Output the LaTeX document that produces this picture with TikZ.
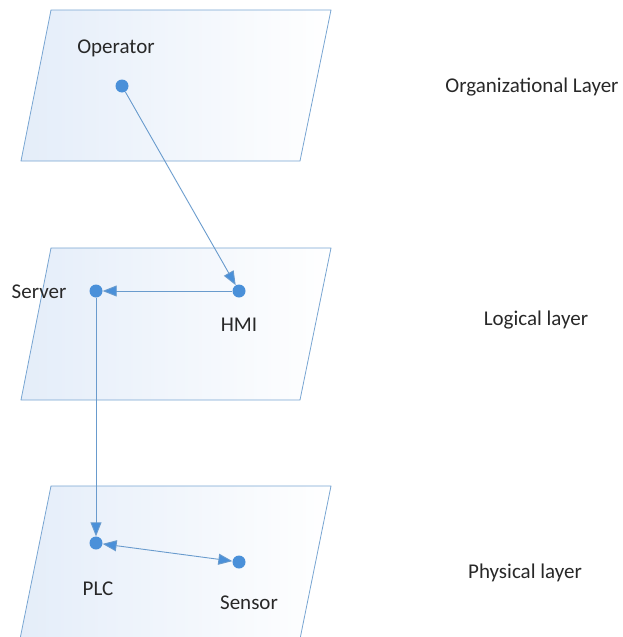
\documentclass[tikz,border=0pt]{standalone}
\usepackage{fontspec}
\setmainfont{Carlito}
\usetikzlibrary{arrows.meta}
\definecolor{dotblue}{RGB}{74,144,217}
\definecolor{lineblue}{RGB}{105,155,205}
\definecolor{planeedge}{RGB}{120,165,210}
\definecolor{planefill}{RGB}{228,237,249}
\definecolor{txt}{RGB}{40,40,40}
\tikzset{
  plane/.style={draw=planeedge, line width=0.8pt, left color=planefill, right color=white},
  dotnode/.style={circle, fill=dotblue, draw=none, minimum size=13pt, inner sep=0pt},
  lbl/.style={font=\fontsize{21}{23}\selectfont, text=txt, inner sep=0pt},
  conn/.style={draw=lineblue, line width=0.9pt, -{Triangle[length=14pt,width=11pt,fill=dotblue]}},
}
\begin{document}
\begin{tikzpicture}[x=1pt,y=-1pt]
\useasboundingbox (0,0) rectangle (622,637);
% planes
\path[plane] (51,10) -- (331,10) -- (300,161) -- (21,161) -- cycle;
\path[plane] (51,248) -- (331,248) -- (300,400) -- (21,400) -- cycle;
\path[left color=planefill, right color=white] (51,486) -- (331,486) -- (300,640) -- (20,640) -- cycle;
\draw[planeedge, line width=0.8pt] (20.4,637) -- (51,486) -- (331,486) -- (300.4,637);
% dots
\node[dotnode] (op) at (122,86) {};
\node[dotnode] (hmi) at (239,291) {};
\node[dotnode] (srv) at (96,291) {};
\node[dotnode] (plc) at (96,543) {};
\node[dotnode] (sen) at (239,562) {};
% labels
\node[lbl] (tOp) at (116,48) {Operator};
\node[lbl] (tSrv) at (39,292) {Server};
\node[lbl] (tHmi) at (239,325) {HMI};
\node[lbl] (tPlc) at (98,589) {PLC};
\node[lbl] (tSen) at (249,603) {Sensor};
\node[lbl] (tOrg) at (532,87) {Organizational Layer};
\node[lbl] (tLog) at (536,320) {Logical layer};
\node[lbl] (tPhy) at (525,573) {Physical layer};
% connectors
\draw[conn] (op) -- (hmi);
\draw[conn] (hmi) -- (srv);
\draw[conn] (srv) -- (plc);
\draw[conn, {Triangle[length=14pt,width=11pt,fill=dotblue]}-{Triangle[length=14pt,width=11pt,fill=dotblue]}] (plc) -- (sen);
\end{tikzpicture}
\end{document}
